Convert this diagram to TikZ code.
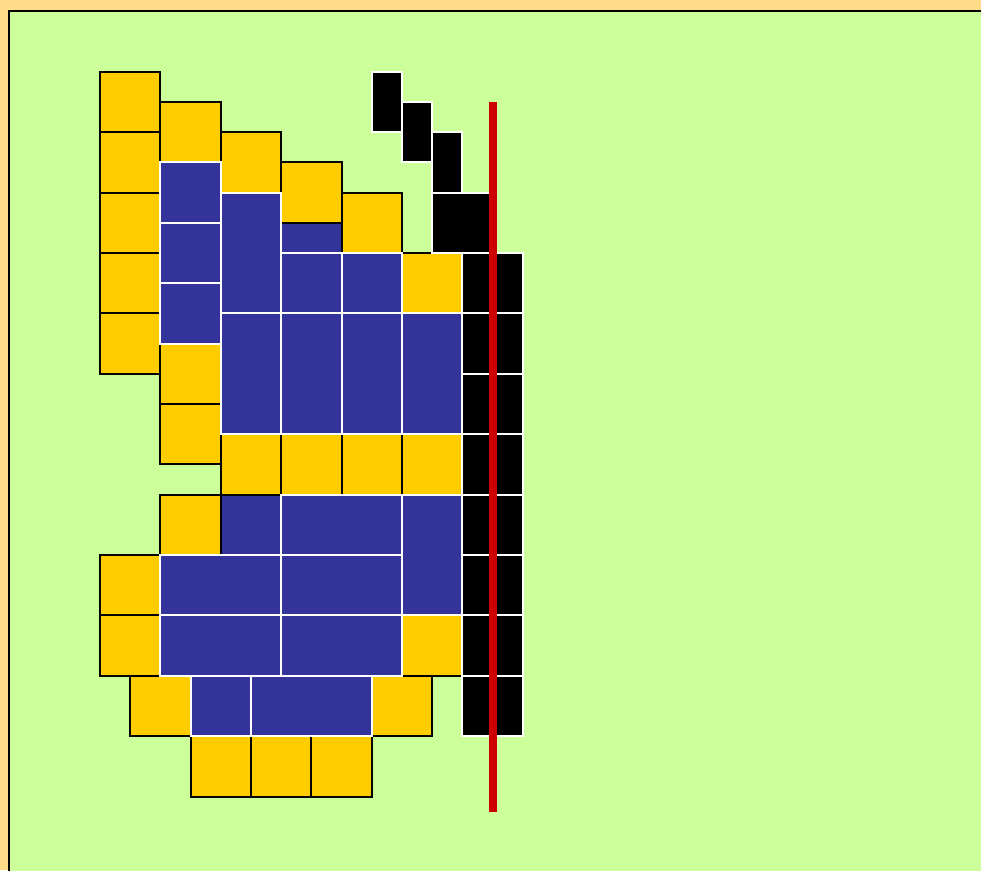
\documentclass[tikz,border=0pt]{standalone}
\definecolor{bgout}{HTML}{FFDD88}
\definecolor{bggreen}{HTML}{CCFF99}
\definecolor{yelc}{HTML}{FFCC00}
\definecolor{bluc}{HTML}{333399}
\definecolor{redc}{HTML}{CC0000}
\tikzset{
  yel/.style={fill=yelc, draw=black, line width=2pt},
  blu/.style={fill=bluc, draw=white, line width=2pt},
  blk/.style={fill=black, draw=white, line width=2pt},
  redline/.style={draw=redc, line width=7.5pt},
}
\begin{document}
\begin{tikzpicture}[x=60.4pt,y=-60.4pt]
% frame: image is 981 x 870 px, origin at (100,71.7) px
\path[fill=bgout] (-1.65563,-1.18709) rectangle (14.58609,13.21689);
\useasboundingbox (-1.65563,-1.18709) rectangle (14.58609,13.21689);
\draw[fill=bggreen, draw=black, line width=2pt] (14.7,-1.002) -- (-1.507,-1.002) -- (-1.507,13.4);
\fill[bggreen] (-1.49,-0.985) rectangle (14.7,13.4);
% early blue cells (under yellow borders)
\foreach \a/\b/\c/\d in {3/2.5/4/3, 2/7/3/8}
  \path[blu] (\a,\b) rectangle (\c,\d);
% yellow cells
\foreach \a/\b/\c/\d in {0/0/1/1, 0/1/1/2, 0/2/1/3, 0/3/1/4, 0/4/1/5,
  1/0.5/2/1.5, 1/4.5/2/5.5, 1/5.5/2/6.5,
  2/1/3/2, 3/1.5/4/2.5, 4/2/5/3, 5/3/6/4,
  2/6/3/7, 3/6/4/7, 4/6/5/7, 5/6/6/7,
  1/7/2/8, 0/8/1/9, 0/9/1/10, 5/9/6/10,
  0.5/10/1.5/11, 4.5/10/5.5/11,
  1.5/11/2.5/12, 2.5/11/3.5/12, 3.5/11/4.5/12}
  \path[yel] (\a,\b) rectangle (\c,\d);
% blue cells
\foreach \a/\b/\c/\d in {1/1.5/2/2.5, 1/2.5/2/3.5, 1/3.5/2/4.5,
  2/2/3/4, 3/3/4/4, 4/3/5/4,
  2/4/3/6, 3/4/4/6, 4/4/5/6, 5/4/6/6,
  3/7/5/8, 5/7/6/9,
  1/8/3/9, 3/8/5/9, 1/9/3/10, 3/9/5/10,
  1.5/10/2.5/11, 2.5/10/4.5/11}
  \path[blu] (\a,\b) rectangle (\c,\d);
% black cells
\foreach \a/\b/\c/\d in {4.5/0/5/1, 5/0.5/5.5/1.5, 5.5/1/6/2, 5.5/2/6.5/3}
  \path[blk] (\a,\b) rectangle (\c,\d);
\foreach \k in {3,...,10}
  \path[blk] (6,\k) rectangle (7,\k+1);
% red line
\coordinate (rtop) at (6.507,0.5);
\coordinate (rbot) at (6.507,12.26);
\draw[redline] (rtop) -- (rbot);
\end{tikzpicture}
\end{document}
